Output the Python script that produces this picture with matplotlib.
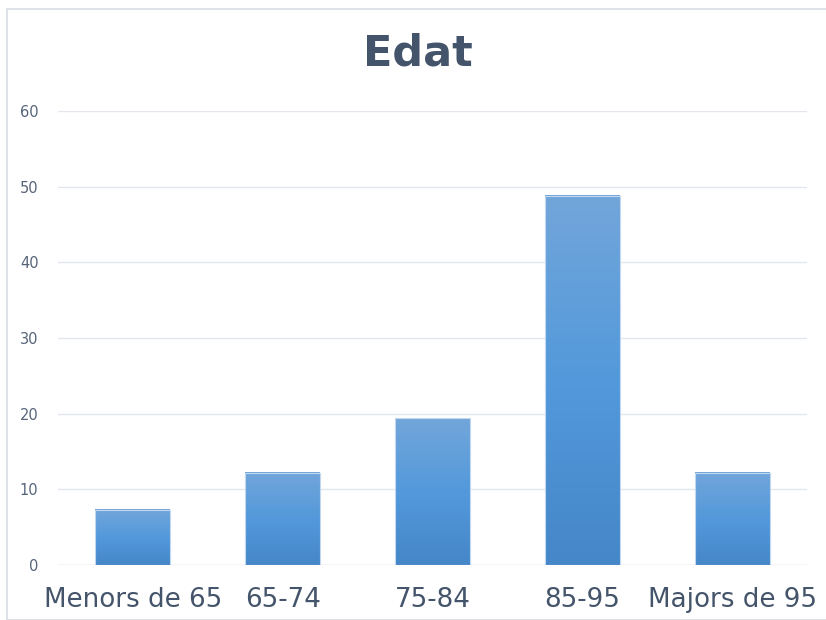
import matplotlib
matplotlib.use("Agg")
import matplotlib.pyplot as plt
import numpy as np
from matplotlib.colors import LinearSegmentedColormap
from matplotlib.patches import Rectangle

categories = ["Menors de 65", "65-74", "75-84", "85-95", "Majors de 95"]
values = [7.3, 12.2, 19.4, 48.8, 12.2]
yticks = [0, 10, 20, 30, 40, 50, 60]
title = "Edat"

text_color = "#44546A"
fig = plt.figure(figsize=(8.26, 6.2), dpi=100)
fig.patches.append(Rectangle((7/826, 0), 1.0, (620-9)/620, transform=fig.transFigure,
                             fill=False, edgecolor="#D9DDE3", linewidth=1.2))
ax = fig.add_axes([58/826, 55/620, 749/826, 454/620])
ax.set_xlim(-0.5, len(categories) - 0.5)
ax.set_ylim(0, 60)

cmap = LinearSegmentedColormap.from_list("g", ["#4587C9", "#5399DB", "#72A6DA"])
grad = np.linspace(0, 1, 256).reshape(-1, 1)
width = 0.5
for i, v in enumerate(values):
    ax.imshow(grad, cmap=cmap, origin="lower", aspect="auto",
              extent=[i - width/2, i + width/2, 0, v], zorder=2)
ax.bar(range(len(categories)), values, width=width, facecolor="none",
       edgecolor="#C2D8F0", linewidth=0.8, zorder=3)
ax.set_xlim(-0.5, len(categories) - 0.5)
ax.set_ylim(0, 60)

ax.set_yticks(yticks)
ax.set_yticklabels([str(t) for t in yticks], fontsize=10.5, color="#56657A")
ax.set_xticks(range(len(categories)))
ax.set_xticklabels(categories, fontsize=18.8, color=text_color)
ax.tick_params(axis="both", length=0)
ax.tick_params(axis="y", pad=14)
ax.tick_params(axis="x", pad=16)
ax.yaxis.grid(True, color="#E3E6EC", linewidth=1.0, zorder=0)
ax.set_axisbelow(True)
for s in ax.spines.values():
    s.set_visible(False)
ax.axhline(0, color="#DCE1E8", linewidth=1.0, zorder=1)

fig.text(418/826, 1 - 53/620, title, ha="center", va="center", fontsize=31,
         fontweight="bold", color=text_color)

fig.savefig("out.png", dpi=100)
